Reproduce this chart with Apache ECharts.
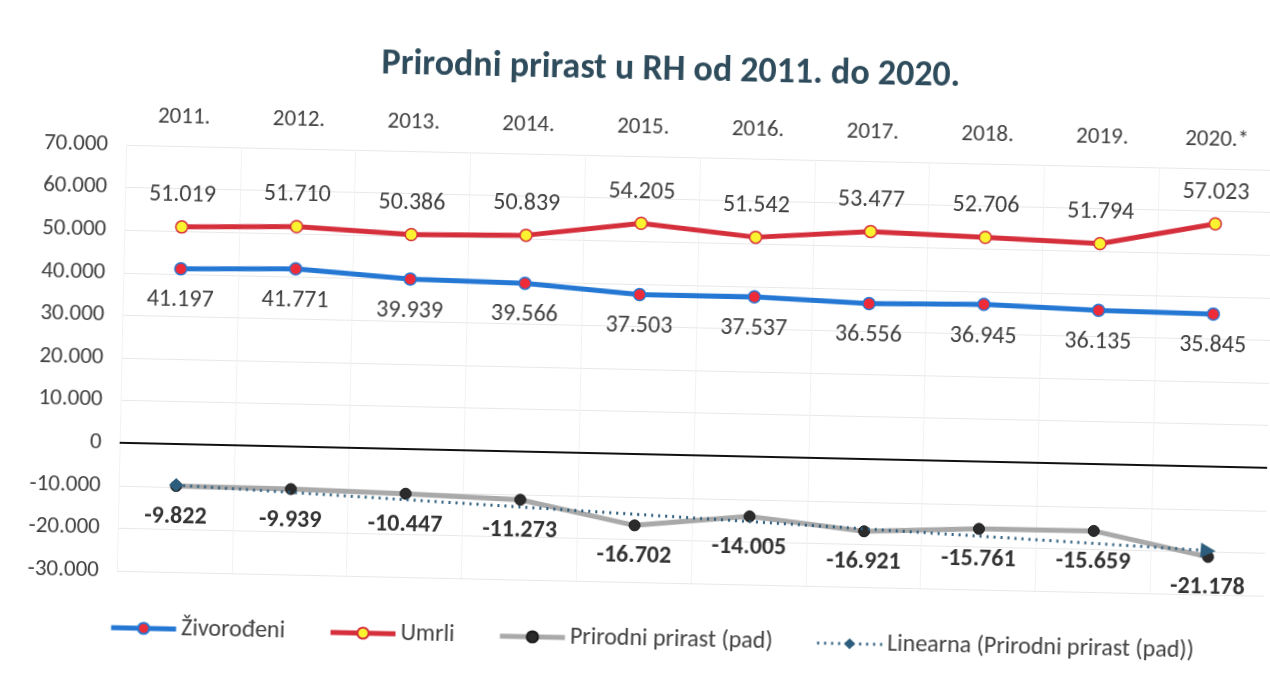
<!DOCTYPE html>
<html>
<head>
<meta charset="utf-8">
<script src="https://cdn.jsdelivr.net/npm/echarts@6/dist/echarts.min.js"></script>
<style>
html,body{margin:0;padding:0;background:#fff;overflow:hidden;}
#c{width:1270px;height:681px;background:#fff;transform:rotate(1.25deg);transform-origin:50% 50%;}
</style>
</head>
<body>
<div id="c"></div>
<script>
const categories = ['2011.','2012.','2013.','2014.','2015.','2016.','2017.','2018.','2019.','2020.*'];
const zivorodeni = [41197, 41771, 39939, 39566, 37503, 37537, 36556, 36945, 36135, 35845];
const umrli = [51019, 51710, 50386, 50839, 54205, 51542, 53477, 52706, 51794, 57023];
const prirast = [-9822, -9939, -10447, -11273, -16702, -14005, -16921, -15761, -15659, -21178];
const trendStart = -9600;
const trendEnd = -19700;
const yTicks = {min: -30000, max: 70000, interval: 10000};

function fmt(v){
  const s = v < 0 ? '-' : '';
  const a = Math.abs(Math.round(v)).toString();
  return s + a.replace(/\B(?=(\d{3})+(?!\d))/g, '.');
}

const trendData = categories.map((c, i) => {
  if (i === 0) return {value: trendStart, symbol: 'diamond', symbolSize: 14};
  if (i === categories.length - 1) return {value: trendEnd, symbol: 'triangle', symbolSize: 15, symbolRotate: -93};
  return null;
});

const FONT = 'Carlito, Lato, "Open Sans", sans-serif';
const LBL = '#404040';
const chart = echarts.init(document.getElementById('c'), null, {renderer: 'canvas'});
chart.setOption({
  backgroundColor: '#fff',
  animation: false,
  textStyle: {fontFamily: FONT},
  title: {
    text: 'Prirodni prirast u RH od 2011. do 2020.',
    left: 660, top: 47, textAlign: 'center',
    textStyle: {fontFamily: FONT, fontSize: 36, fontWeight: 'bold', color: '#2f4c5c'}
  },
  legend: {
    left: 110, top: 622,
    itemWidth: 65, itemHeight: 14, itemGap: 43,
    textStyle: {fontFamily: FONT, fontSize: 24, color: LBL},
    data: [
      {name: 'Živorođeni', lineStyle: {width: 5}},
      {name: 'Umrli', lineStyle: {width: 5}},
      {name: 'Prirodni prirast (pad)', lineStyle: {width: 5}},
      {name: 'Linearna (Prirodni prirast (pad))', lineStyle: {width: 3}}
    ]
  },
  grid: {left: 122, top: 156, width: 1151, height: 426, containLabel: false},
  xAxis: {
    type: 'category', data: categories, position: 'top',
    axisLine: {show: false}, axisTick: {show: false},
    axisLabel: {fontFamily: FONT, fontSize: 23, color: LBL, margin: 17},
    splitLine: {show: true, lineStyle: {color: '#f2f2f2', width: 1}}
  },
  yAxis: {
    type: 'value', min: yTicks.min, max: yTicks.max, interval: yTicks.interval,
    axisLine: {show: false}, axisTick: {show: false},
    axisLabel: {fontFamily: FONT, fontSize: 23, color: LBL, margin: 18, formatter: v => fmt(v)},
    splitLine: {lineStyle: {color: '#e8e8e8', width: 1}}
  },
  series: [{
    name: 'Živorođeni', type: 'line', data: zivorodeni,
    symbol: 'circle', symbolSize: 12,
    lineStyle: {color: '#2478d4', width: 5},
    itemStyle: {color: '#ee2b38', borderColor: '#2478d4', borderWidth: 1.5},
    label: {show: true, position: 'bottom', distance: 13, formatter: p => fmt(p.value),
      fontFamily: FONT, fontSize: 24, color: LBL},
    markLine: {
      silent: true, symbol: ['none', 'none'], label: {show: false},
      lineStyle: {color: '#111', width: 2, type: 'solid'},
      data: [{yAxis: 0}]
    },
    z: 3
  }, {
    name: 'Umrli', type: 'line', data: umrli,
    symbol: 'circle', symbolSize: 12,
    lineStyle: {color: '#d52f3c', width: 5},
    itemStyle: {color: '#fbf330', borderColor: '#d52f3c', borderWidth: 1.5},
    label: {show: true, position: 'top', distance: 13, formatter: p => fmt(p.value),
      fontFamily: FONT, fontSize: 24, color: LBL},
    z: 3
  }, {
    name: 'Prirodni prirast (pad)', type: 'line', data: prirast,
    symbol: 'circle', symbolSize: 11,
    lineStyle: {color: '#a9a9a9', width: 5},
    itemStyle: {color: '#2b2b2b', borderColor: '#1a1a1a', borderWidth: 1},
    label: {show: true, position: 'bottom', distance: 13, formatter: p => fmt(p.value),
      fontFamily: FONT, fontSize: 24, fontWeight: 'bold', color: '#333333'},
    z: 3
  }, {
    name: 'Linearna (Prirodni prirast (pad))', type: 'line', data: trendData,
    connectNulls: true, symbol: 'diamond', symbolSize: 13,
    lineStyle: {color: '#2c5d7c', width: 3, type: [2, 5]},
    itemStyle: {color: '#2c5d7c'},
    label: {show: false},
    z: 4
  }]
});
</script>
</body>
</html>
